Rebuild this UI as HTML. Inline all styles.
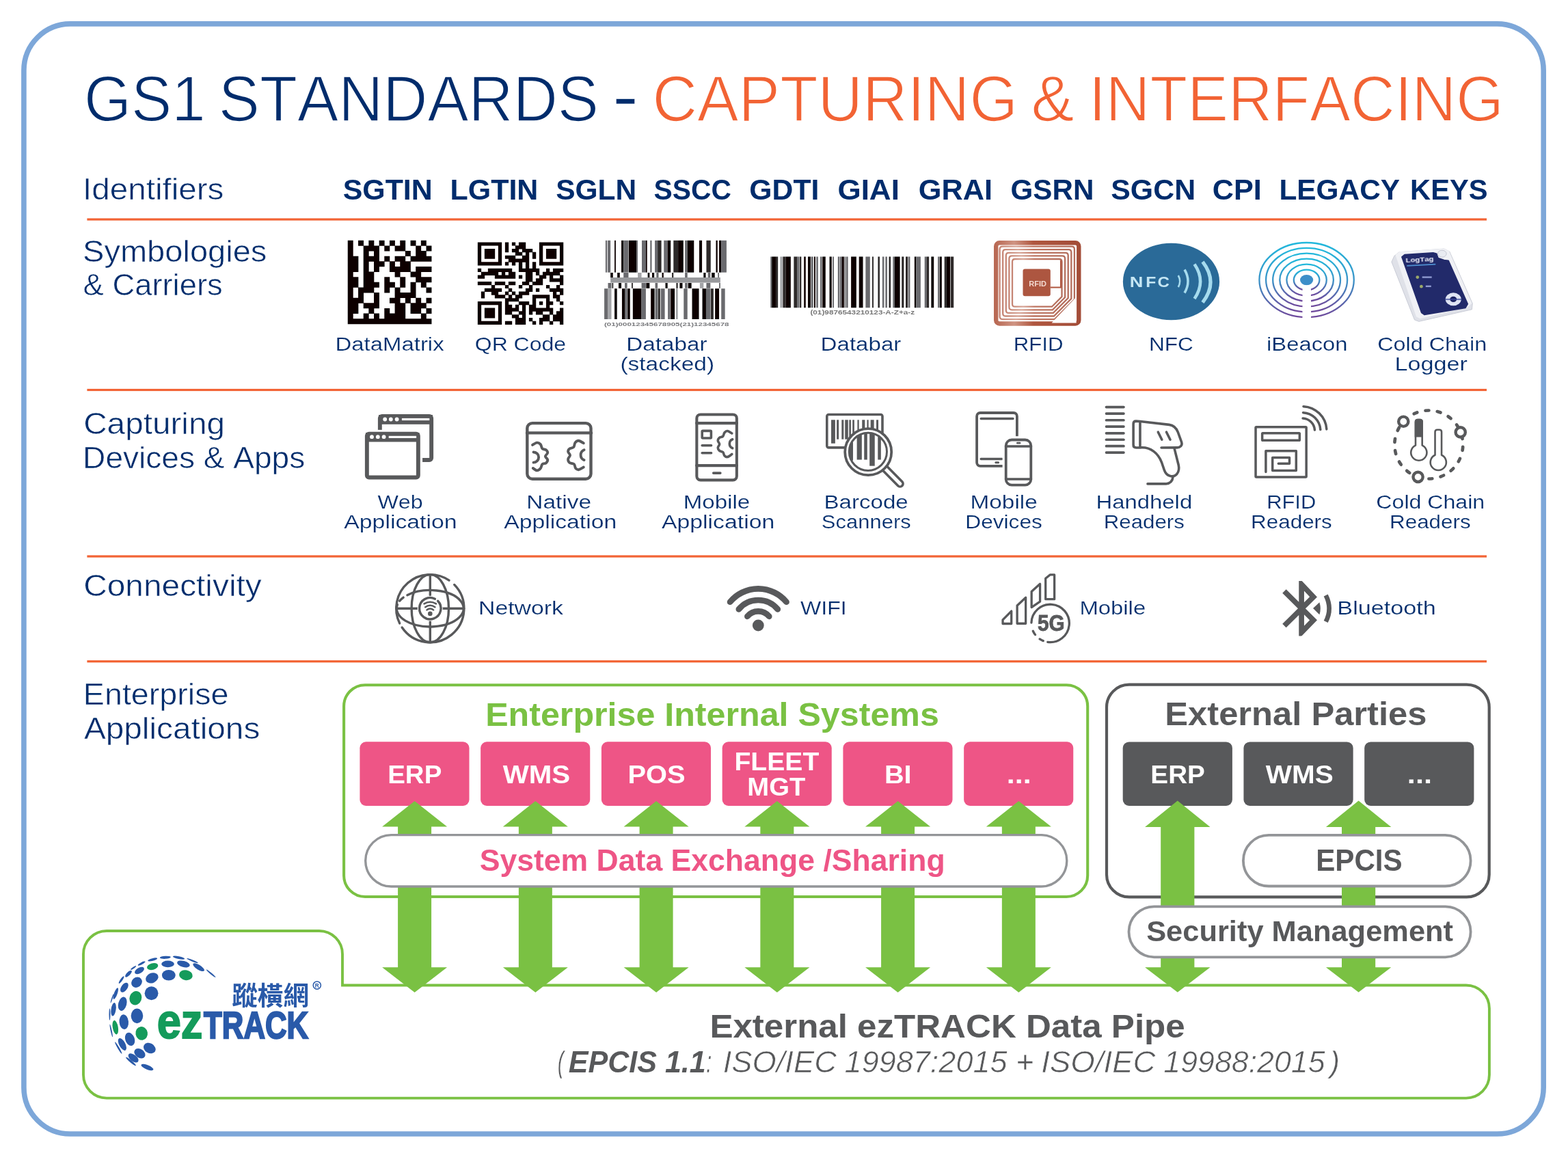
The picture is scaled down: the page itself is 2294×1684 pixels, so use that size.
<!DOCTYPE html>
<html><head><meta charset="utf-8"><title>GS1 Standards - Capturing &amp; Interfacing</title>
<style>
html,body{margin:0;padding:0;background:#fff}
svg{display:block}
text{font-family:"Liberation Sans",sans-serif;font-kerning:none;white-space:pre}
</style></head><body>
<svg width="2294" height="1684" viewBox="0 0 2294 1684" style="opacity:.9999">
<rect width="2294" height="1684" fill="#fff"/>
<g id="p_text"><rect x="34.9" y="34.9" width="2223.2999999999997" height="1624.1" rx="68" fill="none" stroke="#7da7d9" stroke-width="7.6"/>
<text transform="matrix(0.9328 0 0 1 122.98 176.85)" font-size="95.21" fill="#002c6c" stroke="#fff" stroke-width="1.7" vector-effect="non-scaling-stroke">GS1</text>
<text transform="matrix(0.9471 0 0 1 319.86 176.85)" font-size="95.21" fill="#002c6c" stroke="#fff" stroke-width="1.7" vector-effect="non-scaling-stroke">STANDARDS</text>
<text transform="matrix(1.2033 0 0 1 896.2 173.1)" font-size="93.61" fill="#002c6c" stroke="#fff" stroke-width="0.6" vector-effect="non-scaling-stroke">-</text>
<text transform="matrix(0.9533 0 0 1 954.54 176.85)" font-size="95.21" fill="#f26334" stroke="#fff" stroke-width="1.7" vector-effect="non-scaling-stroke">CAPTURING</text>
<text transform="matrix(0.9938 0 0 1 1508.52 176.85)" font-size="95.21" fill="#f26334" stroke="#fff" stroke-width="1.7" vector-effect="non-scaling-stroke">&amp;</text>
<text transform="matrix(0.9409 0 0 1 1592.88 176.85)" font-size="95.21" fill="#f26334" stroke="#fff" stroke-width="1.7" vector-effect="non-scaling-stroke">INTERFACING</text>
<text transform="matrix(1.0704 0 0 1 121.01 292.1)" font-size="44.48" fill="#002c6c" stroke="#fff" stroke-width="0.6" vector-effect="non-scaling-stroke">Identifiers</text>
<text transform="matrix(1.0577 0 0 1 121.06 383.4)" font-size="44.48" fill="#002c6c" stroke="#fff" stroke-width="0.6" vector-effect="non-scaling-stroke">Symbologies</text>
<text transform="matrix(1.0198 0 0 1 121.61 432.2)" font-size="44.48" fill="#002c6c" stroke="#fff" stroke-width="0.6" vector-effect="non-scaling-stroke">&amp; Carriers</text>
<text transform="matrix(1.0723 0 0 1 122.18 634.7)" font-size="44.48" fill="#002c6c" stroke="#fff" stroke-width="0.6" vector-effect="non-scaling-stroke">Capturing</text>
<text transform="matrix(1.0357 0 0 1 121.12 684.7)" font-size="44.48" fill="#002c6c" stroke="#fff" stroke-width="0.6" vector-effect="non-scaling-stroke">Devices &amp; Apps</text>
<text transform="matrix(1.0758 0 0 1 122.17 872.4)" font-size="44.48" fill="#002c6c" stroke="#fff" stroke-width="0.6" vector-effect="non-scaling-stroke">Connectivity</text>
<text transform="matrix(1.0488 0 0 1 121.87 1030.7)" font-size="44.48" fill="#002c6c" stroke="#fff" stroke-width="0.6" vector-effect="non-scaling-stroke">Enterprise</text>
<text transform="matrix(1.0734 0 0 1 122.91 1081.1)" font-size="44.48" fill="#002c6c" stroke="#fff" stroke-width="0.6" vector-effect="non-scaling-stroke">Applications</text>
<text transform="matrix(1.0181 0 0 1 501.66 291.7)" font-size="42.15" fill="#002c6c" font-weight="bold">SGTIN</text>
<text transform="matrix(1.0193 0 0 1 658.53 291.7)" font-size="42.15" fill="#002c6c" font-weight="bold">LGTIN</text>
<text transform="matrix(1.0085 0 0 1 813.18 291.7)" font-size="42.15" fill="#002c6c" font-weight="bold">SGLN</text>
<text transform="matrix(0.9682 0 0 1 956.62 291.7)" font-size="42.15" fill="#002c6c" font-weight="bold">SSCC</text>
<text transform="matrix(1.0142 0 0 1 1096.35 291.7)" font-size="42.15" fill="#002c6c" font-weight="bold">GDTI</text>
<text transform="matrix(1.0450 0 0 1 1225.39 291.7)" font-size="42.15" fill="#002c6c" font-weight="bold">GIAI</text>
<text transform="matrix(1.0275 0 0 1 1343.82 291.7)" font-size="42.15" fill="#002c6c" font-weight="bold">GRAI</text>
<text transform="matrix(1.0007 0 0 1 1478.57 291.7)" font-size="42.15" fill="#002c6c" font-weight="bold">GSRN</text>
<text transform="matrix(1.0167 0 0 1 1625.27 291.7)" font-size="42.15" fill="#002c6c" font-weight="bold">SGCN</text>
<text transform="matrix(1.0256 0 0 1 1773.83 291.7)" font-size="42.15" fill="#002c6c" font-weight="bold">CPI</text>
<text transform="matrix(1.0050 0 0 1 1871.47 291.7)" font-size="42.15" fill="#002c6c" font-weight="bold">LEGACY</text>
<text transform="matrix(0.9889 0 0 1 2063.11 291.7)" font-size="42.15" fill="#002c6c" font-weight="bold">KEYS</text>
<rect x="127.4" y="319.4" width="2047.6" height="3.2" fill="#f26334"/>
<rect x="127.4" y="568.9" width="2047.6" height="3.2" fill="#f26334"/>
<rect x="127.4" y="812.4" width="2047.6" height="3.2" fill="#f26334"/>
<rect x="127.4" y="966.1" width="2047.6" height="3.2" fill="#f26334"/>
<text transform="matrix(1.1589 0 0 1 490.47 513.02)" font-size="28.42" fill="#002c6c" stroke="#fff" stroke-width="0.25" vector-effect="non-scaling-stroke">DataMatrix</text>
<text transform="matrix(1.1252 0 0 1 694.76 513.02)" font-size="28.42" fill="#002c6c" stroke="#fff" stroke-width="0.25" vector-effect="non-scaling-stroke">QR Code</text>
<text transform="matrix(1.1685 0 0 1 916.35 513.02)" font-size="28.42" fill="#002c6c" stroke="#fff" stroke-width="0.25" vector-effect="non-scaling-stroke">Databar</text>
<text transform="matrix(1.1784 0 0 1 907.4 541.52)" font-size="28.42" fill="#002c6c" stroke="#fff" stroke-width="0.25" vector-effect="non-scaling-stroke">(stacked)</text>
<text transform="matrix(1.1654 0 0 1 1200.56 513.02)" font-size="28.42" fill="#002c6c" stroke="#fff" stroke-width="0.25" vector-effect="non-scaling-stroke">Databar</text>
<text transform="matrix(1.0998 0 0 1 1482.71 513.02)" font-size="28.42" fill="#002c6c" stroke="#fff" stroke-width="0.25" vector-effect="non-scaling-stroke">RFID</text>
<text transform="matrix(1.1139 0 0 1 1680.88 513.02)" font-size="28.42" fill="#002c6c" stroke="#fff" stroke-width="0.25" vector-effect="non-scaling-stroke">NFC</text>
<text transform="matrix(1.1527 0 0 1 1853.08 513.02)" font-size="28.42" fill="#002c6c" stroke="#fff" stroke-width="0.25" vector-effect="non-scaling-stroke">iBeacon</text>
<text transform="matrix(1.1381 0 0 1 2015.23 513.02)" font-size="28.42" fill="#002c6c" stroke="#fff" stroke-width="0.25" vector-effect="non-scaling-stroke">Cold Chain</text>
<text transform="matrix(1.2016 0 0 1 2040.47 541.52)" font-size="28.42" fill="#002c6c" stroke="#fff" stroke-width="0.25" vector-effect="non-scaling-stroke">Logger</text>
<text transform="matrix(1.1338 0 0 1 552.43 744.42)" font-size="28.42" fill="#002c6c" stroke="#fff" stroke-width="0.25" vector-effect="non-scaling-stroke">Web</text>
<text transform="matrix(1.1884 0 0 1 503.31 773.23)" font-size="28.42" fill="#002c6c" stroke="#fff" stroke-width="0.25" vector-effect="non-scaling-stroke">Application</text>
<text transform="matrix(1.1767 0 0 1 770.33 744.42)" font-size="28.42" fill="#002c6c" stroke="#fff" stroke-width="0.25" vector-effect="non-scaling-stroke">Native</text>
<text transform="matrix(1.1870 0 0 1 737.21 773.23)" font-size="28.42" fill="#002c6c" stroke="#fff" stroke-width="0.25" vector-effect="non-scaling-stroke">Application</text>
<text transform="matrix(1.1665 0 0 1 999.66 744.42)" font-size="28.42" fill="#002c6c" stroke="#fff" stroke-width="0.25" vector-effect="non-scaling-stroke">Mobile</text>
<text transform="matrix(1.1884 0 0 1 968.01 773.23)" font-size="28.42" fill="#002c6c" stroke="#fff" stroke-width="0.25" vector-effect="non-scaling-stroke">Application</text>
<text transform="matrix(1.1634 0 0 1 1205.56 744.42)" font-size="28.42" fill="#002c6c" stroke="#fff" stroke-width="0.25" vector-effect="non-scaling-stroke">Barcode</text>
<text transform="matrix(1.0902 0 0 1 1201.87 773.23)" font-size="28.42" fill="#002c6c" stroke="#fff" stroke-width="0.25" vector-effect="non-scaling-stroke">Scanners</text>
<text transform="matrix(1.1739 0 0 1 1419.54 744.42)" font-size="28.42" fill="#002c6c" stroke="#fff" stroke-width="0.25" vector-effect="non-scaling-stroke">Mobile</text>
<text transform="matrix(1.1140 0 0 1 1412.28 773.23)" font-size="28.42" fill="#002c6c" stroke="#fff" stroke-width="0.25" vector-effect="non-scaling-stroke">Devices</text>
<text transform="matrix(1.1571 0 0 1 1603.48 744.42)" font-size="28.42" fill="#002c6c" stroke="#fff" stroke-width="0.25" vector-effect="non-scaling-stroke">Handheld</text>
<text transform="matrix(1.1009 0 0 1 1614.71 773.23)" font-size="28.42" fill="#002c6c" stroke="#fff" stroke-width="0.25" vector-effect="non-scaling-stroke">Readers</text>
<text transform="matrix(1.0886 0 0 1 1853.14 744.42)" font-size="28.42" fill="#002c6c" stroke="#fff" stroke-width="0.25" vector-effect="non-scaling-stroke">RFID</text>
<text transform="matrix(1.1048 0 0 1 1830.1 773.23)" font-size="28.42" fill="#002c6c" stroke="#fff" stroke-width="0.25" vector-effect="non-scaling-stroke">Readers</text>
<text transform="matrix(1.1301 0 0 1 2013.34 744.42)" font-size="28.42" fill="#002c6c" stroke="#fff" stroke-width="0.25" vector-effect="non-scaling-stroke">Cold Chain</text>
<text transform="matrix(1.1048 0 0 1 2033 773.23)" font-size="28.42" fill="#002c6c" stroke="#fff" stroke-width="0.25" vector-effect="non-scaling-stroke">Readers</text>
<text transform="matrix(1.1896 0 0 1 700 898.73)" font-size="28.42" fill="#002c6c" stroke="#fff" stroke-width="0.25" vector-effect="non-scaling-stroke">Network</text>
<text transform="matrix(1.1298 0 0 1 1171.03 898.73)" font-size="28.42" fill="#002c6c" stroke="#fff" stroke-width="0.25" vector-effect="non-scaling-stroke">WIFI</text>
<text transform="matrix(1.1552 0 0 1 1579.48 898.73)" font-size="28.42" fill="#002c6c" stroke="#fff" stroke-width="0.25" vector-effect="non-scaling-stroke">Mobile</text>
<text transform="matrix(1.2041 0 0 1 1956.37 898.73)" font-size="28.42" fill="#002c6c" stroke="#fff" stroke-width="0.25" vector-effect="non-scaling-stroke">Bluetooth</text></g>
<g id="p_sym"><defs><filter id="bl" x="-5%" y="-5%" width="110%" height="110%"><feGaussianBlur stdDeviation="0.45"/></filter><filter id="bl2" x="-5%" y="-5%" width="110%" height="110%"><feGaussianBlur stdDeviation="0.6"/></filter><linearGradient id="cu" x1="0" y1="0" x2="1" y2="0"><stop offset="0" stop-color="#b96a55"/><stop offset="0.22" stop-color="#cf9483"/><stop offset="0.45" stop-color="#b0573f"/><stop offset="1" stop-color="#a34d38"/></linearGradient><linearGradient id="ib" x1="0" y1="0" x2="0" y2="1"><stop offset="0" stop-color="#22b8dc"/><stop offset="0.5" stop-color="#3a94c8"/><stop offset="1" stop-color="#6f489b"/></linearGradient></defs>
<path d="M508.75,351.8h7.95v8.03h-7.95zM524.05,351.8h7.95v8.03h-7.95zM539.35,351.8h7.95v8.03h-7.95zM554.65,351.8h7.95v8.03h-7.95zM569.95,351.8h7.95v8.03h-7.95zM585.25,351.8h7.95v8.03h-7.95zM600.55,351.8h7.95v8.03h-7.95zM615.85,351.8h7.95v8.03h-7.95zM508.75,359.43h7.95v8.03h-7.95zM531.7,359.43h23.25v8.03h-23.25zM562.3,359.43h7.95v8.03h-7.95zM577.6,359.43h15.6v8.03h-15.6zM608.2,359.43h7.95v8.03h-7.95zM623.5,359.43h7.95v8.03h-7.95zM508.75,367.05h7.95v8.03h-7.95zM531.7,367.05h7.95v8.03h-7.95zM547,367.05h7.95v8.03h-7.95zM592.9,367.05h7.95v8.03h-7.95zM608.2,367.05h15.6v8.03h-15.6zM508.75,374.68h15.6v8.03h-15.6zM531.7,374.68h23.25v8.03h-23.25zM562.3,374.68h7.95v8.03h-7.95zM577.6,374.68h15.6v8.03h-15.6zM600.55,374.68h30.9v8.03h-30.9zM508.75,382.3h15.6v8.03h-15.6zM531.7,382.3h7.95v8.03h-7.95zM547,382.3h15.6v8.03h-15.6zM569.95,382.3h7.95v8.03h-7.95zM585.25,382.3h15.6v8.03h-15.6zM508.75,389.93h15.6v8.03h-15.6zM531.7,389.93h7.95v8.03h-7.95zM547,389.93h7.95v8.03h-7.95zM569.95,389.93h30.9v8.03h-30.9zM608.2,389.93h23.25v8.03h-23.25zM508.75,397.55h7.95v8.03h-7.95zM531.7,397.55h15.6v8.03h-15.6zM577.6,397.55h7.95v8.03h-7.95zM600.55,397.55h15.6v8.03h-15.6zM508.75,405.18h15.6v8.03h-15.6zM531.7,405.18h15.6v8.03h-15.6zM562.3,405.18h7.95v8.03h-7.95zM585.25,405.18h7.95v8.03h-7.95zM608.2,405.18h23.25v8.03h-23.25zM508.75,412.8h15.6v8.03h-15.6zM531.7,412.8h23.25v8.03h-23.25zM562.3,412.8h15.6v8.03h-15.6zM585.25,412.8h7.95v8.03h-7.95zM600.55,412.8h7.95v8.03h-7.95zM615.85,412.8h7.95v8.03h-7.95zM508.75,420.43h7.95v8.03h-7.95zM524.05,420.43h23.25v8.03h-23.25zM562.3,420.43h7.95v8.03h-7.95zM577.6,420.43h7.95v8.03h-7.95zM600.55,420.43h7.95v8.03h-7.95zM623.5,420.43h7.95v8.03h-7.95zM508.75,428.05h7.95v8.03h-7.95zM524.05,428.05h7.95v8.03h-7.95zM547,428.05h7.95v8.03h-7.95zM577.6,428.05h30.9v8.03h-30.9zM508.75,435.68h23.25v8.03h-23.25zM547,435.68h7.95v8.03h-7.95zM569.95,435.68h15.6v8.03h-15.6zM592.9,435.68h7.95v8.03h-7.95zM608.2,435.68h7.95v8.03h-7.95zM623.5,435.68h7.95v8.03h-7.95zM508.75,443.3h15.6v8.03h-15.6zM531.7,443.3h23.25v8.03h-23.25zM577.6,443.3h15.6v8.03h-15.6zM600.55,443.3h23.25v8.03h-23.25zM508.75,450.93h15.6v8.03h-15.6zM539.35,450.93h7.95v8.03h-7.95zM562.3,450.93h7.95v8.03h-7.95zM577.6,450.93h15.6v8.03h-15.6zM600.55,450.93h15.6v8.03h-15.6zM623.5,450.93h7.95v8.03h-7.95zM508.75,458.55h7.95v8.03h-7.95zM531.7,458.55h7.95v8.03h-7.95zM547,458.55h7.95v8.03h-7.95zM562.3,458.55h30.9v8.03h-30.9zM615.85,458.55h7.95v8.03h-7.95zM508.75,466.18h122.7v8.03h-122.7z" fill="#0a0606" filter="url(#bl)"/>
<path d="M698.85,354.4h35.33v5.21h-35.33zM738.88,354.4h5.3v5.21h-5.3zM748.89,354.4h5.3v5.21h-5.3zM758.9,354.4h10.31v5.21h-10.31zM788.92,354.4h35.33v5.21h-35.33zM698.85,359.21h5.3v5.21h-5.3zM728.87,359.21h5.3v5.21h-5.3zM738.88,359.21h5.3v5.21h-5.3zM753.89,359.21h15.31v5.21h-15.31zM788.92,359.21h5.3v5.21h-5.3zM818.95,359.21h5.3v5.21h-5.3zM698.85,364.02h5.3v5.21h-5.3zM708.86,364.02h15.31v5.21h-15.31zM728.87,364.02h5.3v5.21h-5.3zM738.88,364.02h5.3v5.21h-5.3zM748.89,364.02h10.31v5.21h-10.31zM763.9,364.02h15.31v5.21h-15.31zM788.92,364.02h5.3v5.21h-5.3zM798.93,364.02h15.31v5.21h-15.31zM818.95,364.02h5.3v5.21h-5.3zM698.85,368.82h5.3v5.21h-5.3zM708.86,368.82h15.31v5.21h-15.31zM728.87,368.82h5.3v5.21h-5.3zM753.89,368.82h10.31v5.21h-10.31zM768.91,368.82h5.3v5.21h-5.3zM778.91,368.82h5.3v5.21h-5.3zM788.92,368.82h5.3v5.21h-5.3zM798.93,368.82h15.31v5.21h-15.31zM818.95,368.82h5.3v5.21h-5.3zM698.85,373.63h5.3v5.21h-5.3zM708.86,373.63h15.31v5.21h-15.31zM728.87,373.63h5.3v5.21h-5.3zM738.88,373.63h15.31v5.21h-15.31zM763.9,373.63h10.31v5.21h-10.31zM778.91,373.63h5.3v5.21h-5.3zM788.92,373.63h5.3v5.21h-5.3zM798.93,373.63h15.31v5.21h-15.31zM818.95,373.63h5.3v5.21h-5.3zM698.85,378.44h5.3v5.21h-5.3zM728.87,378.44h5.3v5.21h-5.3zM743.89,378.44h30.32v5.21h-30.32zM788.92,378.44h5.3v5.21h-5.3zM818.95,378.44h5.3v5.21h-5.3zM698.85,383.25h35.33v5.21h-35.33zM738.88,383.25h5.3v5.21h-5.3zM748.89,383.25h5.3v5.21h-5.3zM758.9,383.25h5.3v5.21h-5.3zM768.91,383.25h5.3v5.21h-5.3zM778.91,383.25h5.3v5.21h-5.3zM788.92,383.25h35.33v5.21h-35.33zM758.9,388.06h5.3v5.21h-5.3zM768.91,388.06h5.3v5.21h-5.3zM778.91,388.06h5.3v5.21h-5.3zM698.85,392.86h5.3v5.21h-5.3zM713.86,392.86h35.33v5.21h-35.33zM758.9,392.86h30.32v5.21h-30.32zM798.93,392.86h5.3v5.21h-5.3zM808.94,392.86h15.31v5.21h-15.31zM703.85,397.67h25.32v5.21h-25.32zM733.88,397.67h5.3v5.21h-5.3zM743.89,397.67h10.31v5.21h-10.31zM768.91,397.67h10.31v5.21h-10.31zM783.92,397.67h5.3v5.21h-5.3zM793.93,397.67h25.32v5.21h-25.32zM698.85,402.48h10.31v5.21h-10.31zM723.87,402.48h30.32v5.21h-30.32zM758.9,402.48h5.3v5.21h-5.3zM768.91,402.48h10.31v5.21h-10.31zM788.92,402.48h10.31v5.21h-10.31zM803.93,402.48h5.3v5.21h-5.3zM818.95,402.48h5.3v5.21h-5.3zM768.91,407.29h10.31v5.21h-10.31zM783.92,407.29h10.31v5.21h-10.31zM803.93,407.29h20.32v5.21h-20.32zM698.85,412.1h20.32v5.21h-20.32zM723.87,412.1h15.31v5.21h-15.31zM743.89,412.1h10.31v5.21h-10.31zM763.9,412.1h10.31v5.21h-10.31zM778.91,412.1h15.31v5.21h-15.31zM818.95,412.1h5.3v5.21h-5.3zM718.87,416.9h5.3v5.21h-5.3zM738.88,416.9h5.3v5.21h-5.3zM758.9,416.9h5.3v5.21h-5.3zM773.91,416.9h5.3v5.21h-5.3zM798.93,416.9h5.3v5.21h-5.3zM813.94,416.9h5.3v5.21h-5.3zM708.86,421.71h25.32v5.21h-25.32zM743.89,421.71h5.3v5.21h-5.3zM768.91,421.71h10.31v5.21h-10.31zM783.92,421.71h5.3v5.21h-5.3zM803.93,421.71h20.32v5.21h-20.32zM703.85,426.52h5.3v5.21h-5.3zM718.87,426.52h10.31v5.21h-10.31zM738.88,426.52h5.3v5.21h-5.3zM748.89,426.52h5.3v5.21h-5.3zM758.9,426.52h15.31v5.21h-15.31zM808.94,426.52h5.3v5.21h-5.3zM818.95,426.52h5.3v5.21h-5.3zM703.85,431.33h5.3v5.21h-5.3zM723.87,431.33h15.31v5.21h-15.31zM743.89,431.33h5.3v5.21h-5.3zM753.89,431.33h10.31v5.21h-10.31zM778.91,431.33h25.32v5.21h-25.32zM808.94,431.33h10.31v5.21h-10.31zM738.88,436.14h20.32v5.21h-20.32zM778.91,436.14h5.3v5.21h-5.3zM798.93,436.14h5.3v5.21h-5.3zM813.94,436.14h5.3v5.21h-5.3zM698.85,440.94h35.33v5.21h-35.33zM738.88,440.94h5.3v5.21h-5.3zM758.9,440.94h15.31v5.21h-15.31zM778.91,440.94h5.3v5.21h-5.3zM788.92,440.94h5.3v5.21h-5.3zM798.93,440.94h10.31v5.21h-10.31zM818.95,440.94h5.3v5.21h-5.3zM698.85,445.75h5.3v5.21h-5.3zM728.87,445.75h5.3v5.21h-5.3zM738.88,445.75h10.31v5.21h-10.31zM753.89,445.75h5.3v5.21h-5.3zM763.9,445.75h5.3v5.21h-5.3zM773.91,445.75h10.31v5.21h-10.31zM798.93,445.75h5.3v5.21h-5.3zM698.85,450.56h5.3v5.21h-5.3zM708.86,450.56h15.31v5.21h-15.31zM728.87,450.56h5.3v5.21h-5.3zM738.88,450.56h20.32v5.21h-20.32zM763.9,450.56h5.3v5.21h-5.3zM773.91,450.56h35.33v5.21h-35.33zM818.95,450.56h5.3v5.21h-5.3zM698.85,455.37h5.3v5.21h-5.3zM708.86,455.37h15.31v5.21h-15.31zM728.87,455.37h5.3v5.21h-5.3zM738.88,455.37h10.31v5.21h-10.31zM758.9,455.37h10.31v5.21h-10.31zM773.91,455.37h5.3v5.21h-5.3zM783.92,455.37h10.31v5.21h-10.31zM803.93,455.37h5.3v5.21h-5.3zM813.94,455.37h10.31v5.21h-10.31zM698.85,460.18h5.3v5.21h-5.3zM708.86,460.18h15.31v5.21h-15.31zM728.87,460.18h5.3v5.21h-5.3zM748.89,460.18h10.31v5.21h-10.31zM763.9,460.18h5.3v5.21h-5.3zM793.93,460.18h10.31v5.21h-10.31zM808.94,460.18h15.31v5.21h-15.31zM698.85,464.98h5.3v5.21h-5.3zM728.87,464.98h5.3v5.21h-5.3zM753.89,464.98h15.31v5.21h-15.31zM773.91,464.98h5.3v5.21h-5.3zM788.92,464.98h15.31v5.21h-15.31zM808.94,464.98h15.31v5.21h-15.31zM698.85,469.79h35.33v5.21h-35.33zM738.88,469.79h10.31v5.21h-10.31zM753.89,469.79h15.31v5.21h-15.31zM778.91,469.79h5.3v5.21h-5.3zM788.92,469.79h5.3v5.21h-5.3zM803.93,469.79h5.3v5.21h-5.3zM818.95,469.79h5.3v5.21h-5.3z" fill="#0a0606" filter="url(#bl)"/>
<g filter="url(#bl2)"><rect x="885.89" y="351.8" width="2.27" height="46.8" fill="#6a6b6e"/><rect x="889.07" y="351.8" width="4.09" height="46.8" fill="#6a6b6e"/><rect x="899.06" y="351.8" width="1.82" height="46.8" fill="#0a0606"/><rect x="909.04" y="351.8" width="3.18" height="46.8" fill="#0a0606"/><rect x="912.22" y="351.8" width="7.26" height="46.8" fill="#6a6b6e"/><rect x="919.94" y="351.8" width="11.35" height="46.8" fill="#0a0606"/><rect x="931.29" y="351.8" width="1.82" height="46.8" fill="#6a6b6e"/><rect x="939" y="351.8" width="5.9" height="46.8" fill="#6a6b6e"/><rect x="944.9" y="351.8" width="1.82" height="46.8" fill="#0a0606"/><rect x="951.26" y="351.8" width="2.27" height="46.8" fill="#6a6b6e"/><rect x="958.07" y="351.8" width="4.09" height="46.8" fill="#6a6b6e"/><rect x="962.15" y="351.8" width="5.45" height="46.8" fill="#2e2c2c"/><rect x="971.23" y="351.8" width="5.45" height="46.8" fill="#6a6b6e"/><rect x="976.68" y="351.8" width="4.54" height="46.8" fill="#0a0606"/><rect x="985.3" y="351.8" width="6.81" height="46.8" fill="#2e2c2c"/><rect x="992.11" y="351.8" width="7.72" height="46.8" fill="#0a0606"/><rect x="1002.1" y="351.8" width="3.63" height="46.8" fill="#6a6b6e"/><rect x="1005.73" y="351.8" width="9.53" height="46.8" fill="#0a0606"/><rect x="1022.98" y="351.8" width="4.09" height="46.8" fill="#0a0606"/><rect x="1033.42" y="351.8" width="6.35" height="46.8" fill="#2e2c2c"/><rect x="1047.49" y="351.8" width="2.27" height="46.8" fill="#0a0606"/><rect x="1052.03" y="351.8" width="3.18" height="46.8" fill="#0a0606"/><rect x="1055.21" y="351.8" width="7.72" height="46.8" fill="#6a6b6e"/><rect x="884.08" y="422.2" width="5.45" height="44.8" fill="#6a6b6e"/><rect x="889.53" y="422.2" width="4.99" height="44.8" fill="#a3a4a7"/><rect x="899.06" y="422.2" width="3.63" height="44.8" fill="#0a0606"/><rect x="909.95" y="422.2" width="4.09" height="44.8" fill="#0a0606"/><rect x="914.04" y="422.2" width="3.63" height="44.8" fill="#6a6b6e"/><rect x="918.12" y="422.2" width="3.63" height="44.8" fill="#0a0606"/><rect x="925.84" y="422.2" width="12.71" height="44.8" fill="#0a0606"/><rect x="938.55" y="422.2" width="6.35" height="44.8" fill="#6a6b6e"/><rect x="952.17" y="422.2" width="5.45" height="44.8" fill="#0a0606"/><rect x="958.52" y="422.2" width="3.63" height="44.8" fill="#6a6b6e"/><rect x="962.61" y="422.2" width="3.18" height="44.8" fill="#2e2c2c"/><rect x="966.69" y="422.2" width="5.9" height="44.8" fill="#6a6b6e"/><rect x="977.13" y="422.2" width="3.63" height="44.8" fill="#6a6b6e"/><rect x="981.22" y="422.2" width="5.9" height="44.8" fill="#0a0606"/><rect x="988.94" y="422.2" width="2.72" height="44.8" fill="#a3a4a7"/><rect x="1000.28" y="422.2" width="5.45" height="44.8" fill="#6a6b6e"/><rect x="1012.54" y="422.2" width="9.99" height="44.8" fill="#0a0606"/><rect x="1027.52" y="422.2" width="5.45" height="44.8" fill="#0a0606"/><rect x="1032.97" y="422.2" width="6.35" height="44.8" fill="#6a6b6e"/><rect x="1039.78" y="422.2" width="4.09" height="44.8" fill="#2e2c2c"/><rect x="1046.13" y="422.2" width="5.9" height="44.8" fill="#0a0606"/><rect x="1055.21" y="422.2" width="5.45" height="44.8" fill="#6a6b6e"/><rect x="893.16" y="399" width="3.63" height="7" fill="#0a0606"/><rect x="903.14" y="399" width="3.63" height="7" fill="#0a0606"/><rect x="912.22" y="399" width="7.26" height="7" fill="#6a6b6e"/><rect x="933.1" y="399" width="5.45" height="7" fill="#a3a4a7"/><rect x="947.63" y="399" width="2.72" height="7" fill="#0a0606"/><rect x="953.98" y="399" width="3.18" height="7" fill="#0a0606"/><rect x="960.34" y="399" width="3.18" height="7" fill="#6a6b6e"/><rect x="968.51" y="399" width="2.27" height="7" fill="#0a0606"/><rect x="983.03" y="399" width="2.27" height="7" fill="#2e2c2c"/><rect x="1002.1" y="399" width="3.63" height="7" fill="#6a6b6e"/><rect x="1029.33" y="399" width="3.18" height="7" fill="#0a0606"/><rect x="1035.69" y="399" width="3.63" height="7" fill="#6a6b6e"/><rect x="1041.14" y="399" width="4.54" height="7" fill="#0a0606"/><rect x="1050.22" y="399" width="1.82" height="7" fill="#6a6b6e"/><rect x="893.16" y="406" width="160.69" height="7.6" fill="#98999c"/><rect x="889.53" y="414" width="4.99" height="7.8" fill="#6a6b6e"/><rect x="895.43" y="414" width="1.82" height="7.8" fill="#2e2c2c"/><rect x="904.96" y="414" width="4.09" height="7.8" fill="#0a0606"/><rect x="914.04" y="414" width="3.63" height="7.8" fill="#6a6b6e"/><rect x="924.02" y="414" width="1.82" height="7.8" fill="#2e2c2c"/><rect x="938.55" y="414" width="6.35" height="7.8" fill="#6a6b6e"/><rect x="945.36" y="414" width="4.99" height="7.8" fill="#0a0606"/><rect x="958.52" y="414" width="3.63" height="7.8" fill="#6a6b6e"/><rect x="973.5" y="414" width="3.18" height="7.8" fill="#0a0606"/><rect x="989.39" y="414" width="2.27" height="7.8" fill="#2e2c2c"/><rect x="994.38" y="414" width="4.09" height="7.8" fill="#0a0606"/><rect x="1002.1" y="414" width="3.63" height="7.8" fill="#6a6b6e"/><rect x="1006.64" y="414" width="4.99" height="7.8" fill="#0a0606"/><rect x="1023.89" y="414" width="5.45" height="7.8" fill="#a3a4a7"/><rect x="1033.42" y="414" width="5.9" height="7.8" fill="#6a6b6e"/><rect x="1052.03" y="414" width="1.82" height="7.8" fill="#6a6b6e"/><text x="884" y="476.6" font-size="7.6" font-weight="bold" fill="#77787b" textLength="182.5" lengthAdjust="spacingAndGlyphs">(01)00012345678905(21)12345678</text></g>
<g filter="url(#bl2)"><rect x="1127.24" y="375.5" width="1.93" height="74.7" fill="#6a6b6e"/><rect x="1129.17" y="375.5" width="5.8" height="74.7" fill="#0a0606"/><rect x="1134.97" y="375.5" width="3.22" height="74.7" fill="#2e2c2c"/><rect x="1141.41" y="375.5" width="3.22" height="74.7" fill="#a3a4a7"/><rect x="1145.28" y="375.5" width="4.51" height="74.7" fill="#2e2c2c"/><rect x="1149.78" y="375.5" width="7.09" height="74.7" fill="#0a0606"/><rect x="1161.38" y="375.5" width="5.15" height="74.7" fill="#2e2c2c"/><rect x="1166.53" y="375.5" width="2.58" height="74.7" fill="#6a6b6e"/><rect x="1169.75" y="375.5" width="2.58" height="74.7" fill="#2e2c2c"/><rect x="1176.2" y="375.5" width="2.58" height="74.7" fill="#0a0606"/><rect x="1181.99" y="375.5" width="3.86" height="74.7" fill="#0a0606"/><rect x="1186.5" y="375.5" width="3.22" height="74.7" fill="#6a6b6e"/><rect x="1191.01" y="375.5" width="1.93" height="74.7" fill="#0a0606"/><rect x="1194.23" y="375.5" width="2.58" height="74.7" fill="#6a6b6e"/><rect x="1200.03" y="375.5" width="2.58" height="74.7" fill="#6a6b6e"/><rect x="1203.25" y="375.5" width="4.51" height="74.7" fill="#0a0606"/><rect x="1213.56" y="375.5" width="3.22" height="74.7" fill="#0a0606"/><rect x="1218.07" y="375.5" width="1.93" height="74.7" fill="#6a6b6e"/><rect x="1225.8" y="375.5" width="2.58" height="74.7" fill="#6a6b6e"/><rect x="1229.02" y="375.5" width="2.58" height="74.7" fill="#6a6b6e"/><rect x="1231.59" y="375.5" width="3.22" height="74.7" fill="#0a0606"/><rect x="1235.46" y="375.5" width="1.93" height="74.7" fill="#6a6b6e"/><rect x="1238.04" y="375.5" width="2.58" height="74.7" fill="#6a6b6e"/><rect x="1245.12" y="375.5" width="7.73" height="74.7" fill="#0a0606"/><rect x="1256.72" y="375.5" width="5.8" height="74.7" fill="#0a0606"/><rect x="1266.38" y="375.5" width="6.44" height="74.7" fill="#6a6b6e"/><rect x="1276.04" y="375.5" width="1.93" height="74.7" fill="#2e2c2c"/><rect x="1284.42" y="375.5" width="2.58" height="74.7" fill="#2e2c2c"/><rect x="1290.86" y="375.5" width="2.58" height="74.7" fill="#6a6b6e"/><rect x="1295.37" y="375.5" width="2.58" height="74.7" fill="#6a6b6e"/><rect x="1300.52" y="375.5" width="2.58" height="74.7" fill="#2e2c2c"/><rect x="1306.32" y="375.5" width="2.58" height="74.7" fill="#6a6b6e"/><rect x="1308.89" y="375.5" width="7.73" height="74.7" fill="#0a0606"/><rect x="1319.2" y="375.5" width="3.22" height="74.7" fill="#2e2c2c"/><rect x="1325" y="375.5" width="3.22" height="74.7" fill="#2e2c2c"/><rect x="1328.86" y="375.5" width="2.58" height="74.7" fill="#6a6b6e"/><rect x="1337.88" y="375.5" width="2.58" height="74.7" fill="#0a0606"/><rect x="1340.46" y="375.5" width="6.44" height="74.7" fill="#6a6b6e"/><rect x="1352.7" y="375.5" width="3.22" height="74.7" fill="#6a6b6e"/><rect x="1355.92" y="375.5" width="3.22" height="74.7" fill="#2e2c2c"/><rect x="1362.36" y="375.5" width="3.86" height="74.7" fill="#0a0606"/><rect x="1372.02" y="375.5" width="1.93" height="74.7" fill="#6a6b6e"/><rect x="1374.6" y="375.5" width="3.22" height="74.7" fill="#0a0606"/><rect x="1381.68" y="375.5" width="3.22" height="74.7" fill="#2e2c2c"/><rect x="1384.9" y="375.5" width="5.15" height="74.7" fill="#0a0606"/><rect x="1390.7" y="375.5" width="4.51" height="74.7" fill="#2e2c2c"/></g>
<text transform="matrix(1.2408 0 0 1 1185.41 460.3)" font-size="9.5" fill="#555" font-weight="bold" filter="url(#bl)" opacity="0.8">(01)9876543210123-A-Z+a-z</text>
<g filter="url(#bl)"><rect x="1457.2" y="355.2" width="121.1" height="118.29999999999998" rx="5" fill="#fff" stroke="url(#cu)" stroke-width="6.4"/><path d="M1466.6,360.6 H1567.9 Q1571.9,360.6 1571.9,364.6 V438.1 L1542.9,467.1 H1466.6 Q1462.6,467.1 1462.6,463.1 V364.6 Q1462.6,360.6 1466.6,360.6Z" fill="none" stroke="url(#cu)" stroke-width="2.3" opacity="0.82"/><path d="M1471.2,365.2 H1563.3 Q1567.3,365.2 1567.3,369.2 V437.1 L1541.9,462.5 H1471.2 Q1467.2,462.5 1467.2,458.5 V369.2 Q1467.2,365.2 1471.2,365.2Z" fill="none" stroke="url(#cu)" stroke-width="2.3" opacity="0.82"/><path d="M1475.8,369.8 H1558.7 Q1562.7,369.8 1562.7,373.8 V436.1 L1540.9,457.9 H1475.8 Q1471.8,457.9 1471.8,453.9 V373.8 Q1471.8,369.8 1475.8,369.8Z" fill="none" stroke="url(#cu)" stroke-width="2.3" opacity="0.82"/><path d="M1480.4,374.4 H1554.1 Q1558.1,374.4 1558.1,378.4 V435.1 L1539.9,453.3 H1480.4 Q1476.4,453.3 1476.4,449.3 V378.4 Q1476.4,374.4 1480.4,374.4Z" fill="none" stroke="url(#cu)" stroke-width="2.3" opacity="0.82"/><path d="M1485,379 H1549.5 Q1553.5,379 1553.5,383 V434.1 L1538.9,448.7 H1485 Q1481,448.7 1481,444.7 V383 Q1481,379 1485,379Z" fill="none" stroke="url(#cu)" stroke-width="2.3" opacity="0.82"/><polygon points="1538.6,472.6 1574.6,472.6 1574.6,434.6" fill="#fff"/><path d="M1540,473.3 H1574 Q1578.3,473.3 1578.3,469 V434" fill="none" stroke="#a34d38" stroke-width="0" /><rect x="1496.5" y="393.6" width="40.3" height="39.6" rx="3" fill="#ad5640"/><path d="M1536.8,420.5 H1552 V381" fill="none" stroke="#b0573f" stroke-width="2"/></g>
<text transform="matrix(1.0014 0 0 1 1505.26 418.5)" font-size="11" fill="#f3d9d0" font-weight="bold">RFID</text>
<g filter="url(#bl2)"><ellipse cx="1713.5" cy="412" rx="70.6" ry="56.2" fill="#2c6b98"/></g>
<text transform="matrix(1.2483 0 0 1 1652.68 420)" font-size="21.8" fill="#c5e6f3" font-weight="bold" filter="url(#bl)">N</text>
<text transform="matrix(1.1301 0 0 1 1676.35 420)" font-size="21.8" fill="#c5e6f3" font-weight="bold" filter="url(#bl)">F</text>
<text transform="matrix(1.1084 0 0 1 1693.51 420)" font-size="21.8" fill="#c5e6f3" font-weight="bold" filter="url(#bl)">C</text>
<g fill="none" stroke="#a6dbee" stroke-linecap="butt" filter="url(#bl)"><path d="M1723.8,403 Q1728.6,411.5 1723.8,420" stroke-width="2.6"/><path d="M1733,394.5 Q1743.0,411.5 1733,428.5" stroke-width="3.6"/><path d="M1747.5,386.5 Q1764.7,411.75 1747.5,437" stroke-width="4.6"/><path d="M1759.5,383 Q1782.5,412.75 1759.5,442.5" stroke-width="5.2"/></g>
<g fill="none" stroke="url(#ib)" stroke-width="2.3" filter="url(#bl)"><ellipse cx="1911.6" cy="409.6" rx="69.2" ry="54.6"/><ellipse cx="1911.6" cy="409.6" rx="59.5" ry="46.8"/><ellipse cx="1911.6" cy="409.6" rx="49.4" ry="38.9"/><ellipse cx="1911.6" cy="409.6" rx="39.3" ry="31"/><ellipse cx="1911.6" cy="409.6" rx="29.2" ry="23"/><ellipse cx="1911.6" cy="409.6" rx="18.8" ry="15"/></g><ellipse cx="1911.6" cy="409.6" rx="9.6" ry="7.6" fill="#3e8fc9" filter="url(#bl)"/><polygon points="1905.6,417.6 1917.8999999999999,417.6 1918.1,470 1905.3999999999999,470" fill="#fff"/>
<g filter="url(#bl2)"><polygon points="2039.89,374.38 2047.09,368.79 2112.66,363.99 2120.66,367.99 2154.24,443.95 2153.44,452.75 2075.88,470.34 2069.48,467.94 2035.9,383.18" fill="#dfe1e8" stroke="#c9ccd6" stroke-width="1" stroke-linejoin="round"/><polygon points="2041.49,372.78 2047.89,367.99 2112.66,363.67 2119.86,367.19 2153.44,443.95 2146.24,450.35 2077.48,466.34 2071.88,463.14" fill="#f0f1f5" stroke-linejoin="round"/><polygon points="2051.09,375.98 2055.09,372.78 2096.67,370.07 2101.46,371.19 2103.86,377.58 2112.66,380.78 2119.06,381.58 2147.04,444.75 2143.84,450.35 2083.87,460.26 2079.88,457.54" fill="#222a6b" stroke="#222a6b" stroke-width="2" stroke-linejoin="round"/><ellipse cx="2109.78" cy="371.19" rx="6.4" ry="5" fill="#e9ebf1" stroke="#c4c7d2" stroke-width="1"/><ellipse cx="2126.25" cy="437.87" rx="11.5" ry="9.5" fill="#dfe4f3"/><ellipse cx="2126.25" cy="437.87" rx="5" ry="4.2" fill="#1d2460"/><rect x="2114.25" y="436.87" width="24" height="2.2" fill="#3a4a9a" opacity="0.7"/><circle cx="2073.8" cy="405.57" r="2.4" fill="#9aa86a"/><circle cx="2079.4" cy="419.16" r="2.4" fill="#9aa86a"/><rect x="2080.67" y="404.37" width="14" height="2.4" fill="#8f9ad0"/><rect x="2085.79" y="417.64" width="8" height="2.4" fill="#8f9ad0"/><rect x="2058.29" y="387.98" width="42" height="1.8" fill="#4f8fd0" transform="rotate(-3 2058.29 387.98)"/></g>
<text transform="translate(2056.69 383.98) rotate(-3)" font-size="9.5" font-weight="bold" fill="#eef0fa" textLength="41" lengthAdjust="spacingAndGlyphs" filter="url(#bl)">LogTag</text></g>
<g id="p_icons"><rect x="555.85" y="608.95" width="75.30000000000004" height="63.99999999999998" rx="3" fill="#fff" stroke="#58595b" stroke-width="5.9"/><rect x="554" y="607" width="79" height="13.8" fill="#58595b"/><circle cx="563.2" cy="613.5" r="2.9" fill="#fff"/><circle cx="571.8" cy="613.5" r="2.9" fill="#fff"/><circle cx="580.6" cy="613.5" r="2.9" fill="#fff"/><rect x="587.9" y="611.9" width="40.4" height="3.2" fill="#fff"/><rect x="529.5" y="628.9" width="88.6" height="76" fill="#fff"/><rect x="536.85" y="634.75" width="74.99999999999997" height="63.80000000000005" rx="3" fill="#fff" stroke="#58595b" stroke-width="5.9"/><rect x="535" y="633" width="78.5" height="13.5" fill="#58595b"/><circle cx="544" cy="639.2" r="2.9" fill="#fff"/><circle cx="552.8" cy="639.2" r="2.9" fill="#fff"/><circle cx="561.6" cy="639.2" r="2.9" fill="#fff"/><rect x="568.7" y="637.8" width="40.4" height="3.2" fill="#fff"/>
<rect x="771.3000000000001" y="619.1" width="93.20000000000002" height="81.6" rx="7.5" fill="none" stroke="#58595b" stroke-linecap="round" stroke-linejoin="round" stroke-width="4.4"/><path d="M771,633.4 H865" fill="none" stroke="#58595b" stroke-linecap="round" stroke-linejoin="round" stroke-width="4.4" stroke-linecap="butt"/><path d="M779.06,651.02 C780.16,650.46 783.7,647.79 785.66,647.65 C787.61,647.5 789.49,648.67 790.79,650.14 C792.08,651.61 792.08,655.1 793.43,656.44 C794.77,657.79 797.56,657.18 798.85,658.2 C800.15,659.23 801.37,661.01 801.2,662.6 C801.03,664.19 797.82,666.07 797.82,667.73 C797.82,669.39 801.03,670.96 801.2,672.57 C801.37,674.18 800.15,676.31 798.85,677.41 C797.56,678.51 794.77,677.85 793.43,679.17 C792.08,680.49 792.08,683.79 790.79,685.32 C789.49,686.86 787.49,688.45 785.66,688.4 C783.82,688.35 780.77,685.59 779.79,685.03" fill="none" stroke="#58595b" stroke-linecap="round" stroke-linejoin="round" stroke-width="3.9"/><path d="M780.52,661.45 A7.6,7.6 0 0 1 780.52,676.65" fill="none" stroke="#58595b" stroke-linecap="round" stroke-linejoin="round" stroke-width="3.9"/><path d="M853.83,648.38 C852.61,647.77 848.55,644.84 846.5,644.71 C844.45,644.59 842.73,646.06 841.51,647.65 C840.29,649.24 840.54,652.78 839.17,654.24 C837.8,655.71 834.65,655.34 833.3,656.44 C831.96,657.54 830.98,659.25 831.1,660.84 C831.23,662.43 834.04,664.14 834.04,665.97 C834.04,667.81 831.23,670 831.1,671.84 C830.98,673.67 831.84,675.75 833.3,676.97 C834.77,678.19 838.43,677.82 839.9,679.17 C841.37,680.51 841,683.69 842.1,685.03 C843.2,686.38 844.54,687.47 846.5,687.23 C848.45,686.99 852.61,684.18 853.83,683.57" fill="none" stroke="#58595b" stroke-linecap="round" stroke-linejoin="round" stroke-width="3.9"/><path d="M854.56,658.28 A8,8 0 0 0 854.56,673.08" fill="none" stroke="#58595b" stroke-linecap="round" stroke-linejoin="round" stroke-width="3.9"/>
<rect x="1019.3499999999999" y="606.4499999999999" width="58.500000000000135" height="95.9" rx="5.5" fill="none" stroke="#58595b" stroke-linecap="round" stroke-linejoin="round" stroke-width="4.1"/><path d="M1019,619.1 H1078 M1019,681.1 H1078" fill="none" stroke="#58595b" stroke-linecap="round" stroke-linejoin="round" stroke-width="4.1" stroke-linecap="butt"/><path d="M1043.8,692.1 H1053.8" fill="none" stroke="#58595b" stroke-linecap="round" stroke-linejoin="round" stroke-width="3.7"/><rect x="1027.2" y="630.4" width="13.2" height="10.6" rx="1" fill="none" stroke="#58595b" stroke-linecap="round" stroke-linejoin="round" stroke-width="3.6"/><path d="M1027.2,651.8 H1040.6 M1027.2,662.7 H1040.6" fill="none" stroke="#58595b" stroke-linecap="round" stroke-linejoin="round" stroke-width="3.6"/><path d="M1070.8,634.01 C1069.71,633.43 1066.02,630.67 1064.21,630.49 C1062.4,630.32 1061.06,631.67 1059.96,632.99 C1058.86,634.31 1058.86,637.19 1057.61,638.41 C1056.36,639.63 1053.7,639.27 1052.48,640.32 C1051.26,641.37 1050.26,643.13 1050.28,644.71 C1050.3,646.3 1052.63,648.14 1052.63,649.85 C1052.63,651.56 1050.3,653.39 1050.28,654.98 C1050.26,656.57 1051.26,658.28 1052.48,659.38 C1053.7,660.48 1056.36,660.35 1057.61,661.57 C1058.86,662.8 1058.86,665.53 1059.96,666.71 C1061.06,667.88 1062.4,668.98 1064.21,668.61 C1066.02,668.25 1069.71,665.19 1070.8,664.51" fill="none" stroke="#58595b" stroke-linecap="round" stroke-linejoin="round" stroke-width="3.6"/><path d="M1071.68,642.76 A7,7 0 0 0 1071.68,655.76" fill="none" stroke="#58595b" stroke-linecap="round" stroke-linejoin="round" stroke-width="3.6"/>
<rect x="1209.8" y="606.5" width="81.19999999999996" height="48.4" rx="2.6" fill="none" stroke="#58595b" stroke-linecap="round" stroke-linejoin="round" stroke-width="3.6"/><rect x="1216.04" y="614.3" width="5.83" height="34.43" fill="#58595b"/><rect x="1224.14" y="614.3" width="3.03" height="28.38" fill="#58595b"/><rect x="1231.33" y="614.3" width="3.03" height="28.38" fill="#58595b"/><rect x="1236.24" y="614.3" width="4.54" height="28.38" fill="#58595b"/><rect x="1242.3" y="614.3" width="2.65" height="28.38" fill="#58595b"/><rect x="1247.22" y="614.3" width="2.65" height="28.38" fill="#58595b"/><rect x="1254.41" y="614.3" width="2.27" height="28.38" fill="#58595b"/><rect x="1261.22" y="614.3" width="4.16" height="28.38" fill="#58595b"/><rect x="1268.41" y="614.3" width="2.27" height="28.38" fill="#58595b"/><rect x="1273.7" y="614.3" width="4.92" height="28.38" fill="#58595b"/><rect x="1282.03" y="614.3" width="3.03" height="28.38" fill="#58595b"/><path d="M1293.38,683.92 L1316.84,707.76" stroke="#58595b" stroke-width="12.1" stroke-linecap="round" fill="none"/><path d="M1293.38,683.92 L1316.84,707.76" stroke="#fff" stroke-width="5" stroke-linecap="round" fill="none"/><circle cx="1270.22" cy="661.22" r="34" fill="#fff" stroke="#58595b" stroke-width="3.8"/><clipPath id="mgc"><circle cx="1269.92" cy="660.84" r="27"/></clipPath><g clip-path="url(#mgc)"><rect x="1240.41" y="632.84" width="7.57" height="40.87" fill="#58595b"/><rect x="1253.65" y="632.84" width="7.19" height="39.73" fill="#58595b"/><rect x="1264.24" y="632.84" width="4.54" height="39.73" fill="#58595b"/><rect x="1272.19" y="631.33" width="7.57" height="50.33" fill="#58595b"/><rect x="1284.3" y="634.35" width="4.54" height="38.22" fill="#58595b"/></g><circle cx="1269.92" cy="660.84" r="27.6" fill="none" stroke="#58595b" stroke-width="3"/>
<rect x="1429.1000000000001" y="604.0" width="58.79999999999991" height="77.80000000000003" rx="5" fill="none" stroke="#58595b" stroke-linecap="round" stroke-linejoin="round" stroke-width="3.8"/><path d="M1435.2,612.4 H1482 M1435.2,671.6 H1466" fill="none" stroke="#58595b" stroke-linecap="round" stroke-linejoin="round" stroke-width="3.5"/><path d="M1456.8,676.7 H1460.6" fill="none" stroke="#58595b" stroke-linecap="round" stroke-linejoin="round" stroke-width="3"/><rect x="1466.6" y="638.2" width="46.5" height="76" fill="#fff"/><rect x="1471.7" y="643.5" width="36.600000000000094" height="66.2" rx="8.5" fill="none" stroke="#58595b" stroke-linecap="round" stroke-linejoin="round" stroke-width="3.8"/><path d="M1471.5,653.1 H1508.5 M1471.5,701 H1508.5" fill="none" stroke="#58595b" stroke-linecap="round" stroke-linejoin="round" stroke-width="3.5" stroke-linecap="butt"/><path d="M1488.4,648.2 H1492" fill="none" stroke="#58595b" stroke-linecap="round" stroke-linejoin="round" stroke-width="2.8"/>
<path d="M1618.54,595.62 H1643.95" fill="none" stroke="#58595b" stroke-linecap="round" stroke-linejoin="round" stroke-width="3.7"/><path d="M1618.54,605.07 H1643.95" fill="none" stroke="#58595b" stroke-linecap="round" stroke-linejoin="round" stroke-width="3.7"/><path d="M1618.54,614.75 H1643.95" fill="none" stroke="#58595b" stroke-linecap="round" stroke-linejoin="round" stroke-width="3.7"/><path d="M1618.54,624.11 H1643.95" fill="none" stroke="#58595b" stroke-linecap="round" stroke-linejoin="round" stroke-width="3.7"/><path d="M1618.54,633.79 H1643.95" fill="none" stroke="#58595b" stroke-linecap="round" stroke-linejoin="round" stroke-width="3.7"/><path d="M1618.54,643.24 H1643.95" fill="none" stroke="#58595b" stroke-linecap="round" stroke-linejoin="round" stroke-width="3.7"/><path d="M1618.54,652.68 H1643.95" fill="none" stroke="#58595b" stroke-linecap="round" stroke-linejoin="round" stroke-width="3.7"/><path d="M1618.54,662.12 H1643.95" fill="none" stroke="#58595b" stroke-linecap="round" stroke-linejoin="round" stroke-width="3.7"/><path d="M1667.96,616.48 L1710.45,621.36 C1718.32,622.38 1721.47,627.5 1723.28,632.22 L1728.71,647.17 C1730.13,651.89 1726.19,654.88 1722.26,654.88 L1699.04,655.04 M1667.96,616.48 L1662.06,616.09 Q1658.12,616.09 1658.12,620.02 L1658.12,651.11 Q1658.12,655.04 1662.06,655.04 L1667.96,654.88 M1667.96,616.48 L1667.96,654.88 M1667.96,654.88 C1683.7,653.47 1694.71,663.7 1699.44,676.29 L1703.21,687.31 C1706.91,698.32 1717.54,699.11 1722.26,692.81 C1726.19,687.31 1724.78,682.98 1723.99,679.44 L1717.93,655.43 M1678.97,707.92 L1705.73,707.92 C1712.81,707.37 1715.57,702.26 1716.12,697.54 M1694.32,632.22 L1699.83,643.24 M1706.52,632.22 L1712.03,643.24" fill="none" stroke="#58595b" stroke-linecap="round" stroke-linejoin="round" stroke-width="3.6"/>
<rect x="1837.05" y="624.75" width="74.10000000000014" height="73.29999999999995" rx="1" fill="none" stroke="#58595b" stroke-linecap="round" stroke-linejoin="round" stroke-width="3.5"/><rect x="1846.65" y="633.75" width="54.69999999999982" height="10.5" rx="0.8" fill="none" stroke="#58595b" stroke-linecap="round" stroke-linejoin="round" stroke-width="3.5"/><path d="M1851.9,690.4 V659.8 H1896.3 V688.5 H1861.7 V669.5 H1886.5 V678.3 H1870.3" fill="none" stroke="#58595b" stroke-linecap="round" stroke-linejoin="round" stroke-width="3.5" stroke-linejoin="miter"/><path d="M1906.06,612.03 A18.4,18.4 0 0 1 1923.46,629.12" fill="none" stroke="#58595b" stroke-linecap="round" stroke-linejoin="round" stroke-width="3.5"/><path d="M1906.5,603.64 A26.8,26.8 0 0 1 1931.83,628.53" fill="none" stroke="#58595b" stroke-linecap="round" stroke-linejoin="round" stroke-width="3.5"/><path d="M1906.97,594.65 A35.8,35.8 0 0 1 1940.81,627.9" fill="none" stroke="#58595b" stroke-linecap="round" stroke-linejoin="round" stroke-width="3.5"/>
<circle cx="2090.3" cy="650.5" r="50" fill="none" stroke="#58595b" stroke-linecap="round" stroke-linejoin="round" stroke-width="4.7" stroke-dasharray="5.0 12.45" stroke-dashoffset="-3.5"/><circle cx="2053.26" cy="616.75" r="7.1" fill="#fff" stroke="#58595b" stroke-width="4.4"/><circle cx="2136.72" cy="632.38" r="7.1" fill="#fff" stroke="#58595b" stroke-width="4.4"/><circle cx="2074.57" cy="697.87" r="7.1" fill="#fff" stroke="#58595b" stroke-width="4.4"/><path d="M2070.98,651.56 V617.34 Q2070.98,614.14 2074.18,614.14 H2077.49 Q2080.69,614.14 2080.69,617.34 V651.56 A11.6,11.6 0 1 1 2070.98,651.56Z" fill="#fff" stroke="#58595b" stroke-width="2.6" stroke-linejoin="round"/><path d="M2070.98,638.25 V617.34 Q2070.98,614.14 2074.18,614.14 H2077.49 Q2080.69,614.14 2080.69,617.34 V638.25Z" fill="#58595b" stroke="#58595b" stroke-width="2.6"/><path d="M2099.52,665.78 V632 Q2099.52,628.8 2102.72,628.8 H2105.84 Q2109.04,628.8 2109.04,632 V665.78 A11.6,11.6 0 1 1 2099.52,665.78Z" fill="#fff" stroke="#58595b" stroke-width="2.6" stroke-linejoin="round"/></g>
<g id="p_conn"><path d="M664.68,855.43 A49.6,49.6 0 1 1 588.18,917.94 M584.72,911.94 A49.6,49.6 0 0 1 657.04,849.08" fill="none" stroke="#58595b" stroke-linecap="round" stroke-linejoin="round" stroke-width="3.4"/><ellipse cx="629.3" cy="890.2" rx="27.2" ry="49.6" fill="none" stroke="#58595b" stroke-linecap="round" stroke-linejoin="round" stroke-width="3.4"/><path d="M595.88,870.67 A49,26.7 0 1 1 581.37,884.65 M584.71,879.13 A49,26.7 0 0 1 590.17,874.13" fill="none" stroke="#58595b" stroke-linecap="round" stroke-linejoin="round" stroke-width="3.4"/><path d="M629.3,840.6 V873.2 M629.3,907.2 V939.8000000000001 M579.6999999999999,890.2 H612.3 M646.3,890.2 H678.9" fill="none" stroke="#58595b" stroke-linecap="round" stroke-linejoin="round" stroke-width="3.4"/><circle cx="629.3" cy="890.2" r="18.5" fill="#fff" stroke="none"/><path d="M640.59,879.29 A15.7,15.7 0 1 1 636.43,876.21" fill="none" stroke="#58595b" stroke-linecap="round" stroke-linejoin="round" stroke-width="3.4"/><circle cx="629.3" cy="897.9000000000001" r="3.3" fill="#58595b"/><path d="M624.51,892.39 A7.3,7.3 0 0 1 634.09,892.39" fill="none" stroke="#58595b" stroke-linecap="round" stroke-linejoin="round" stroke-width="2.6"/><path d="M622.25,888.19 A12,12 0 0 1 636.35,888.19" fill="none" stroke="#58595b" stroke-linecap="round" stroke-linejoin="round" stroke-width="2.6"/><path d="M620.54,883.33 A17,17 0 0 1 638.06,883.33" fill="none" stroke="#58595b" stroke-linecap="round" stroke-linejoin="round" stroke-width="2.6"/>
<circle cx="1109.3" cy="915" r="8.4" fill="#58595b"/><path d="M1093.37,901.78 A20.7,20.7 0 0 1 1125.23,901.78" fill="none" stroke="#58595b" stroke-linecap="round" stroke-linejoin="round" stroke-width="8.7"/><path d="M1080.83,891.37 A37,37 0 0 1 1137.77,891.37" fill="none" stroke="#58595b" stroke-linecap="round" stroke-linejoin="round" stroke-width="8.7"/><path d="M1068.06,880.76 A53.6,53.6 0 0 1 1150.54,880.76" fill="none" stroke="#58595b" stroke-linecap="round" stroke-linejoin="round" stroke-width="8.7"/>
<polygon points="1467.06,906.9 1479.72,894.1 1479.72,912.5 1467.06,912.5" fill="none" stroke="#58595b" stroke-linecap="round" stroke-linejoin="round" stroke-width="3.3"/><polygon points="1488.11,885.97 1500.64,874.24 1500.64,912.23 1488.11,912.23" fill="none" stroke="#58595b" stroke-linecap="round" stroke-linejoin="round" stroke-width="3.3"/><polygon points="1509.17,865.58 1521.57,854.25 1521.57,880.24 1509.17,888.51" fill="none" stroke="#58595b" stroke-linecap="round" stroke-linejoin="round" stroke-width="3.3"/><polygon points="1529.7,846.26 1536.23,840.92 1542.63,840.92 1542.63,876.64 1529.7,876.64" fill="none" stroke="#58595b" stroke-linecap="round" stroke-linejoin="round" stroke-width="3.3"/><path d="M1508.94,911 A27.7,27.7 0 1 1 1532.77,939.39" fill="none" stroke="#58595b" stroke-linecap="round" stroke-linejoin="round" stroke-width="3.3"/><path d="M1526.25,937.65 A27.7,27.7 0 0 1 1521.14,934.93 M1514.51,928.63 A27.7,27.7 0 0 1 1511.32,923.23" fill="none" stroke="#58595b" stroke-linecap="round" stroke-linejoin="round" stroke-width="3.3"/>
<text transform="matrix(0.8840 0 0 1 1517.88 923.2)" font-size="33.72" fill="#58595b" font-weight="bold" stroke="#58595b" stroke-width="0.8">5G</text>
<clipPath id="btc"><rect x="1860" y="849.99" width="80" height="80.63"/></clipPath><path clip-path="url(#btc)" d="M1878.92,865.05 L1921.57,907.3 L1904.11,925.29 L1904.11,854.92 L1921.57,873.31 L1878.92,915.56" fill="none" stroke="#58595b" stroke-width="7.7" stroke-linejoin="miter" stroke-miterlimit="6" stroke-linecap="butt"/><path d="M1921.03,889.97 L1930.36,881.31 Q1933.3,890.24 1930.36,899.3 Z" fill="#58595b"/><path d="M1939.69,870.91 Q1949.56,890.24 1939.69,909.56" fill="none" stroke="#58595b" stroke-width="6.7"/></g>
<g id="p_ent"><path d="M156,1362 H467 A34,34 0 0 1 501,1396 V1441.5 H2144.9 A34,34 0 0 1 2178.9,1475.5 V1572.6 A34,34 0 0 1 2144.9,1606.6 H156 A34,34 0 0 1 122,1572.6 V1396 A34,34 0 0 1 156,1362 Z" fill="none" stroke="#7ac143" stroke-width="3.9"/>
<rect x="503.1" y="1002.2" width="1088.1" height="309.79999999999995" rx="31" fill="none" stroke="#7ac143" stroke-width="4.1"/>
<rect x="1619" y="1001.7" width="559.6999999999998" height="310.70000000000005" rx="33" fill="none" stroke="#58595b" stroke-width="4.2"/>
<text transform="matrix(1.0462 0 0 1 710.14 1062)" font-size="47.97" fill="#7ac143" font-weight="bold">Enterprise Internal Systems</text>
<text transform="matrix(1.0664 0 0 1 1704.31 1061.1)" font-size="47.53" fill="#58595b" font-weight="bold">External Parties</text>
<rect x="526.4" y="1085.3" width="160.1" height="93.6" rx="9" fill="#ee5586"/>
<rect x="703.15" y="1085.3" width="160.1" height="93.6" rx="9" fill="#ee5586"/>
<rect x="879.9" y="1085.3" width="160.1" height="93.6" rx="9" fill="#ee5586"/>
<rect x="1056.65" y="1085.3" width="160.1" height="93.6" rx="9" fill="#ee5586"/>
<rect x="1233.4" y="1085.3" width="160.1" height="93.6" rx="9" fill="#ee5586"/>
<rect x="1410.15" y="1085.3" width="160.1" height="93.6" rx="9" fill="#ee5586"/>
<rect x="1642.7" y="1085.4" width="160.2" height="93.6" rx="9" fill="#58595b"/>
<rect x="1819.45" y="1085.4" width="160.2" height="93.6" rx="9" fill="#58595b"/>
<rect x="1996.2" y="1085.4" width="160.2" height="93.6" rx="9" fill="#58595b"/>
<text transform="matrix(1.0178 0 0 1 567.23 1146)" font-size="37.79" fill="#fff" font-weight="bold">ERP</text>
<text transform="matrix(1.0656 0 0 1 735.66 1146)" font-size="37.79" fill="#fff" font-weight="bold">WMS</text>
<text transform="matrix(1.0540 0 0 1 918.54 1146)" font-size="37.79" fill="#fff" font-weight="bold">POS</text>
<text transform="matrix(1.0348 0 0 1 1074.48 1127.1)" font-size="37.79" fill="#fff" font-weight="bold">FLEET</text>
<text transform="matrix(1.0120 0 0 1 1093.34 1163.9)" font-size="37.79" fill="#fff" font-weight="bold">MGT</text>
<text transform="matrix(1.0509 0 0 1 1293.94 1146)" font-size="37.79" fill="#fff" font-weight="bold">BI</text>
<text transform="matrix(1.1393 0 0 1 1472.78 1146)" font-size="37.79" fill="#fff" font-weight="bold">...</text>
<text transform="matrix(1.0246 0 0 1 1683.31 1145.8)" font-size="37.79" fill="#fff" font-weight="bold">ERP</text>
<text transform="matrix(1.0722 0 0 1 1851.76 1145.8)" font-size="37.79" fill="#fff" font-weight="bold">WMS</text>
<text transform="matrix(1.1469 0 0 1 2058.86 1145.8)" font-size="37.79" fill="#fff" font-weight="bold">...</text>
<polygon points="606.6,1172 654.1,1209.5 631.1,1209.5 631.1,1415.2 654.1,1415.2 606.6,1452 559.1,1415.2 582.1,1415.2 582.1,1209.5 559.1,1209.5" fill="#7ac143"/>
<polygon points="783.35,1172 830.85,1209.5 807.85,1209.5 807.85,1415.2 830.85,1415.2 783.35,1452 735.85,1415.2 758.85,1415.2 758.85,1209.5 735.85,1209.5" fill="#7ac143"/>
<polygon points="960.1,1172 1007.6,1209.5 984.6,1209.5 984.6,1415.2 1007.6,1415.2 960.1,1452 912.6,1415.2 935.6,1415.2 935.6,1209.5 912.6,1209.5" fill="#7ac143"/>
<polygon points="1136.85,1172 1184.35,1209.5 1161.35,1209.5 1161.35,1415.2 1184.35,1415.2 1136.85,1452 1089.35,1415.2 1112.35,1415.2 1112.35,1209.5 1089.35,1209.5" fill="#7ac143"/>
<polygon points="1313.6,1172 1361.1,1209.5 1338.1,1209.5 1338.1,1415.2 1361.1,1415.2 1313.6,1452 1266.1,1415.2 1289.1,1415.2 1289.1,1209.5 1266.1,1209.5" fill="#7ac143"/>
<polygon points="1490.35,1172 1537.85,1209.5 1514.85,1209.5 1514.85,1415.2 1537.85,1415.2 1490.35,1452 1442.85,1415.2 1465.85,1415.2 1465.85,1209.5 1442.85,1209.5" fill="#7ac143"/>
<polygon points="1722.8,1171.6 1770.5,1210 1747.4,1210 1747.4,1415.2 1770.5,1415.2 1722.8,1451.7 1675.1,1415.2 1698.2,1415.2 1698.2,1210 1675.1,1210" fill="#7ac143"/>
<polygon points="1987.6,1171.6 2035.3,1210 2012.2,1210 2012.2,1415.2 2035.3,1415.2 1987.6,1451.7 1939.9,1415.2 1963,1415.2 1963,1210 1939.9,1210" fill="#7ac143"/>
<rect x="534.7" y="1221.6" width="1026.1" height="75.4" rx="37.7" fill="#fff" stroke="#939598" stroke-width="3.4"/>
<text transform="matrix(1.0220 0 0 1 701.72 1273.9)" font-size="43.61" fill="#ee5586" font-weight="bold">System Data Exchange /Sharing</text>
<rect x="1818.9" y="1221.9" width="332.7" height="74.6" rx="37.3" fill="#fff" stroke="#939598" stroke-width="3.8"/>
<text transform="matrix(0.9664 0 0 1 1925.18 1273.5)" font-size="43.61" fill="#58595b" font-weight="bold">EPCIS</text>
<rect x="1651.5" y="1326.3" width="500.1" height="74" rx="37" fill="#fff" stroke="#939598" stroke-width="3.8"/>
<text transform="matrix(1.0062 0 0 1 1677.15 1377.4)" font-size="43.17" fill="#58595b" font-weight="bold">Security Management</text>
<text transform="matrix(1.0783 0 0 1 1038.38 1518.2)" font-size="47.38" fill="#58595b" font-weight="bold">External ezTRACK Data Pipe</text>
<text transform="matrix(0.5864 0 0 1 815.95 1568.92)" font-size="44.4" fill="#58595b" font-style="italic" stroke="#fff" stroke-width="0.25" vector-effect="non-scaling-stroke">(</text>
<text transform="matrix(0.9778 0 0 1 831.74 1568.8)" font-size="44.04" fill="#58595b" font-weight="bold" font-style="italic">EPCIS 1.1</text>
<text transform="matrix(0.6418 0 0 1 1033.25 1568.92)" font-size="44.4" fill="#58595b" font-style="italic" stroke="#fff" stroke-width="0.25" vector-effect="non-scaling-stroke">:</text>
<text transform="matrix(1.0054 0 0 1 1057.76 1569.15)" font-size="45.06" fill="#58595b" font-style="italic" stroke="#fff" stroke-width="0.7" vector-effect="non-scaling-stroke">ISO/IEC</text>
<text transform="matrix(0.9996 0 0 1 1235.58 1569.15)" font-size="45.06" fill="#58595b" font-style="italic" stroke="#fff" stroke-width="0.7" vector-effect="non-scaling-stroke">19987:2015</text>
<text transform="matrix(0.9989 0 0 1 1486.36 1568.92)" font-size="44.4" fill="#58595b" font-style="italic" stroke="#fff" stroke-width="0.25" vector-effect="non-scaling-stroke">+</text>
<text transform="matrix(1.0134 0 0 1 1523.14 1569.15)" font-size="45.06" fill="#58595b" font-style="italic" stroke="#fff" stroke-width="0.7" vector-effect="non-scaling-stroke">ISO/IEC</text>
<text transform="matrix(0.9928 0 0 1 1702.29 1569.15)" font-size="45.06" fill="#58595b" font-style="italic" stroke="#fff" stroke-width="0.7" vector-effect="non-scaling-stroke">19988:2015</text>
<text transform="matrix(0.9024 0 0 1 1946.17 1568.92)" font-size="44.4" fill="#58595b" font-style="italic" stroke="#fff" stroke-width="0.25" vector-effect="non-scaling-stroke">)</text></g>
<g id="p_logo"><ellipse cx="223.16" cy="1403.99" rx="7.2" ry="1.92" fill="#2a5aa9" transform="rotate(-15 223.16 1403.99)"/><ellipse cx="241.87" cy="1400.79" rx="8" ry="2.08" fill="#2a5aa9" transform="rotate(-3 241.87 1400.79)"/><ellipse cx="261.54" cy="1401.11" rx="8.8" ry="1.92" fill="#2a5aa9" transform="rotate(12 261.54 1401.11)"/><ellipse cx="281.53" cy="1405.59" rx="8.8" ry="1.28" fill="#2a5aa9" transform="rotate(22 281.53 1405.59)"/><ellipse cx="207.17" cy="1409.59" rx="6.08" ry="1.6" fill="#2a5aa9" transform="rotate(-28 207.17 1409.59)"/><ellipse cx="195.17" cy="1415.98" rx="4.8" ry="1.12" fill="#2a5aa9" transform="rotate(-35 195.17 1415.98)"/><ellipse cx="223.16" cy="1414.06" rx="8.32" ry="4.8" fill="#149b5b" transform="rotate(-15 223.16 1414.06)"/><ellipse cx="245.55" cy="1410.39" rx="9.28" ry="4.8" fill="#2a5aa9" transform="rotate(0 245.55 1410.39)"/><ellipse cx="268.42" cy="1410.39" rx="9.6" ry="4.48" fill="#2a5aa9" transform="rotate(15 268.42 1410.39)"/><ellipse cx="290.65" cy="1415.18" rx="9.6" ry="3.52" fill="#2a5aa9" transform="rotate(32 290.65 1415.18)"/><ellipse cx="308.72" cy="1424.3" rx="8.8" ry="1.12" fill="#2a5aa9" transform="rotate(40 308.72 1424.3)"/><ellipse cx="203.97" cy="1419.98" rx="7.68" ry="4.16" fill="#2a5aa9" transform="rotate(-30 203.97 1419.98)"/><ellipse cx="187.98" cy="1424.78" rx="6.4" ry="2.56" fill="#2a5aa9" transform="rotate(-45 187.98 1424.78)"/><ellipse cx="246.83" cy="1426.7" rx="9.92" ry="7.68" fill="#2a5aa9" transform="rotate(0 246.83 1426.7)"/><ellipse cx="271.94" cy="1426.7" rx="9.92" ry="7.36" fill="#149b5b" transform="rotate(10 271.94 1426.7)"/><ellipse cx="222.36" cy="1430.86" rx="9.6" ry="7.2" fill="#2a5aa9" transform="rotate(-25 222.36 1430.86)"/><ellipse cx="199.97" cy="1437.25" rx="8.32" ry="7.2" fill="#2a5aa9" transform="rotate(-40 199.97 1437.25)"/><ellipse cx="181.9" cy="1444.77" rx="8" ry="4.48" fill="#2a5aa9" transform="rotate(-55 181.9 1444.77)"/><ellipse cx="177.58" cy="1433.57" rx="6.4" ry="1.6" fill="#2a5aa9" transform="rotate(-55 177.58 1433.57)"/><ellipse cx="221.56" cy="1453.24" rx="9.92" ry="9.92" fill="#2a5aa9" transform="rotate(0 221.56 1453.24)"/><ellipse cx="198.37" cy="1460.28" rx="8.8" ry="10.4" fill="#149b5b" transform="rotate(20 198.37 1460.28)"/><ellipse cx="179.18" cy="1468.76" rx="6.08" ry="10.4" fill="#2a5aa9" transform="rotate(15 179.18 1468.76)"/><ellipse cx="169.27" cy="1453.56" rx="2.4" ry="8.8" fill="#2a5aa9" transform="rotate(20 169.27 1453.56)"/><ellipse cx="166.07" cy="1476.75" rx="3.52" ry="9.92" fill="#2a5aa9" transform="rotate(8 166.07 1476.75)"/><ellipse cx="200.45" cy="1486.35" rx="8.8" ry="10.87" fill="#2a5aa9" transform="rotate(0 200.45 1486.35)"/><ellipse cx="181.26" cy="1495.14" rx="6.72" ry="10.87" fill="#2a5aa9" transform="rotate(-5 181.26 1495.14)"/><ellipse cx="168.79" cy="1503.14" rx="4" ry="10.4" fill="#149b5b" transform="rotate(-10 168.79 1503.14)"/><ellipse cx="160.47" cy="1483.95" rx="0.96" ry="8.8" fill="#2a5aa9" transform="rotate(0 160.47 1483.95)"/><ellipse cx="162.71" cy="1507.94" rx="0.96" ry="9.6" fill="#2a5aa9" transform="rotate(-12 162.71 1507.94)"/><ellipse cx="163.99" cy="1460.76" rx="0.8" ry="7.2" fill="#2a5aa9" transform="rotate(18 163.99 1460.76)"/><ellipse cx="207.17" cy="1511.94" rx="8.8" ry="9.92" fill="#149b5b" transform="rotate(-10 207.17 1511.94)"/><ellipse cx="190.06" cy="1520.41" rx="6.72" ry="9.92" fill="#2a5aa9" transform="rotate(-20 190.06 1520.41)"/><ellipse cx="178.86" cy="1527.93" rx="4.48" ry="9.92" fill="#2a5aa9" transform="rotate(-28 178.86 1527.93)"/><ellipse cx="173.26" cy="1533.21" rx="1.28" ry="9.92" fill="#2a5aa9" transform="rotate(-30 173.26 1533.21)"/><ellipse cx="218.84" cy="1533.53" rx="9.28" ry="7.2" fill="#2a5aa9" transform="rotate(30 218.84 1533.53)"/><ellipse cx="204.45" cy="1541.2" rx="8.8" ry="6.4" fill="#2a5aa9" transform="rotate(35 204.45 1541.2)"/><ellipse cx="195.17" cy="1547.92" rx="8.8" ry="4.8" fill="#2a5aa9" transform="rotate(38 195.17 1547.92)"/><ellipse cx="191.5" cy="1553.04" rx="9.6" ry="1.6" fill="#2a5aa9" transform="rotate(40 191.5 1553.04)"/><ellipse cx="215.48" cy="1561.51" rx="9.6" ry="3.2" fill="#2a5aa9" transform="rotate(22 215.48 1561.51)"/>
<text x="339.2" y="1470" font-size="37.6" fill="#2a5aa9" font-weight="bold" textLength="112.8" lengthAdjust="spacingAndGlyphs" style="font-family:'Liberation Sans','Noto Sans CJK TC',sans-serif">蹤橫網</text>
<circle cx="463.8" cy="1441.6" r="5.6" fill="none" stroke="#2a5aa9" stroke-width="1.5"/>
<text transform="matrix(0.9265 0 0 1 460.74 1444.7)" font-size="9.01" fill="#2a5aa9" font-weight="bold">R</text>
<text transform="matrix(0.8730 0 0 1 229.73 1519)" font-size="72.4" fill="#149b5b" font-weight="bold" stroke="#149b5b" stroke-width="2">ez</text>
<text transform="matrix(0.7818 0 0 1 298.11 1518.8)" font-size="55.96" fill="#2a5aa9" font-weight="bold" stroke="#2a5aa9" stroke-width="2.3">TRACK</text></g>
</svg>
</body></html>
